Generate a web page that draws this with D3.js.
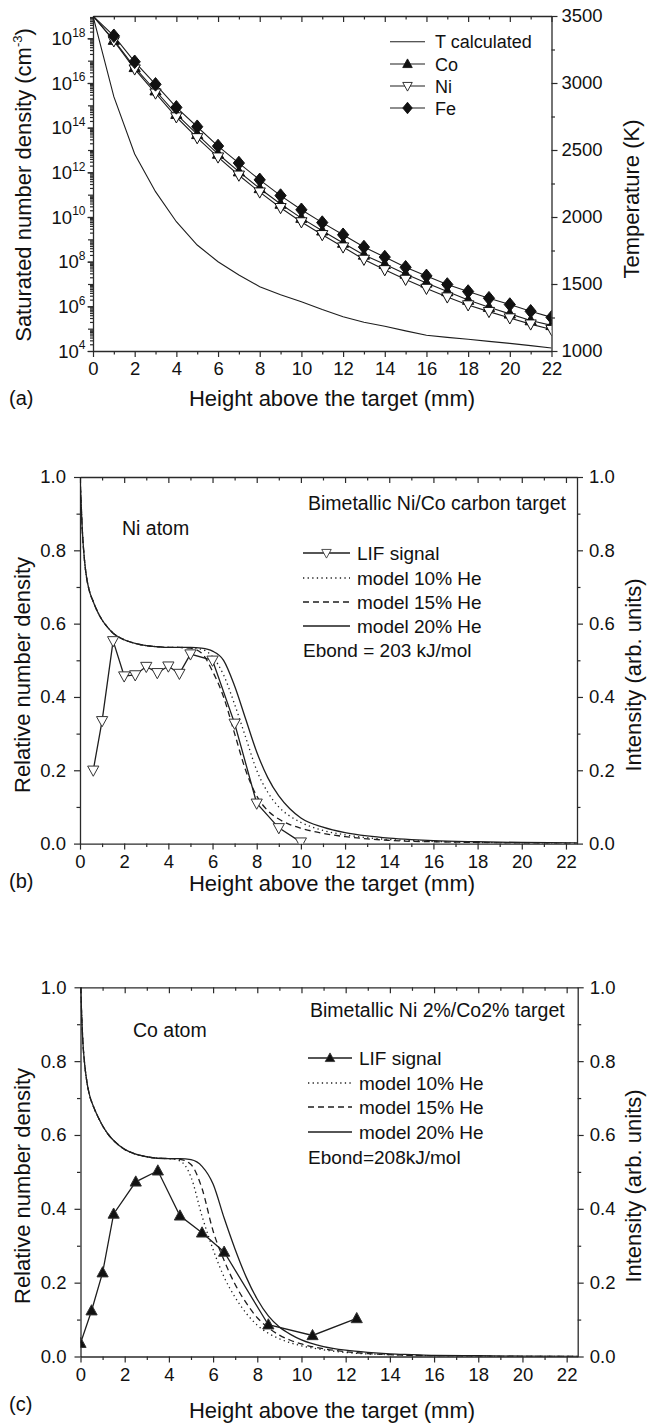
<!DOCTYPE html>
<html>
<head>
<meta charset="utf-8">
<script src="https://cdn.jsdelivr.net/npm/d3@7"></script>
<style>
  body { margin: 0; background: #fff; }
  svg text { font-family: "Liberation Sans", Arial, Helvetica, sans-serif; fill: #111; }
</style>
</head>
<body>
<svg id="fig" width="648" height="1425"></svg>
<script>
// ---------- (a) saturated number density and temperature ----------
const heightA = [0, 1, 2, 3, 4, 5, 6, 7, 8, 9, 10, 11, 12, 13, 14, 15, 16, 17, 18, 19, 20, 21, 22];
const temperatureK = [3500, 2898, 2470, 2189, 1965, 1791, 1666, 1567, 1480, 1420, 1368, 1310, 1256,
                      1215, 1185, 1150, 1117, 1102, 1088, 1072, 1057, 1040, 1022];
const densityCo = [1e19, 8.3e17, 5.0e16, 4.5e15, 4.0e14, 5.0e13, 6.6e12, 1.07e12, 1.9e11, 3.8e10, 8.9e9,
                   2.4e9, 6.8e8, 2.0e8, 7.6e7, 2.8e7, 1.12e7, 4.6e6, 1.9e6, 9.1e5, 4.6e5, 2.3e5, 1.4e5];
const densityNi = [1e19, 7.6e17, 4.2e16, 3.5e15, 3.0e14, 3.5e13, 4.8e12, 7.4e11, 1.3e11, 2.6e10, 6.0e9,
                   1.6e9, 4.5e8, 1.26e8, 4.3e7, 1.6e7, 6.3e6, 2.6e6, 1.15e6, 5.8e5, 3.0e5, 1.6e5, 9.1e4];
const densityFe = [1e19, 1.3e18, 8.9e16, 8.7e15, 8.1e14, 1.1e14, 1.5e13, 2.6e12, 4.6e11, 9.1e10, 2.1e10,
                   5.6e9, 1.6e9, 4.5e8, 1.6e8, 5.6e7, 2.3e7, 9.5e6, 4.6e6, 2.3e6, 1.2e6, 6.0e5, 3.2e5];
const densityTickExps = [4, 6, 8, 10, 12, 14, 16, 18];
const temperatureTicks = [1000, 1500, 2000, 2500, 3000, 3500];
const heightTicksA = [0, 2, 4, 6, 8, 10, 12, 14, 16, 18, 20, 22];
const legendA = ["T calculated", "Co", "Ni", "Fe"];

// ---------- (b) Ni atom ----------
const modelHeight = [0, 0.05, 0.1, 0.2, 0.3, 0.4, 0.6, 0.8, 1, 1.25, 1.5, 2, 2.5, 3, 3.5, 4, 4.5, 5,
                     5.5, 6, 6.5, 7, 7.5, 8, 8.5, 9, 9.5, 10, 11, 12, 13, 14, 15, 16, 18, 20, 22.5];
const niModel10 = [1.0, 0.93, 0.86, 0.775, 0.725, 0.695, 0.66, 0.632, 0.61, 0.59, 0.574, 0.556, 0.546, 0.54,
                   0.537, 0.535, 0.535, 0.534, 0.53, 0.51, 0.46, 0.38, 0.29, 0.2, 0.14, 0.1, 0.075, 0.058,
                   0.036, 0.024, 0.016, 0.011, 0.008, 0.006, 0.003, 0.002, 0.001];
const niModel15 = [1.0, 0.93, 0.86, 0.775, 0.725, 0.695, 0.66, 0.632, 0.61, 0.59, 0.574, 0.556, 0.546, 0.54,
                   0.537, 0.535, 0.535, 0.533, 0.52, 0.47, 0.40, 0.30, 0.20, 0.13, 0.09, 0.067, 0.052, 0.042,
                   0.028, 0.019, 0.013, 0.009, 0.006, 0.005, 0.003, 0.001, 0.0];
const niModel20 = [1.0, 0.93, 0.86, 0.775, 0.725, 0.695, 0.66, 0.632, 0.61, 0.59, 0.574, 0.556, 0.546, 0.54,
                   0.537, 0.535, 0.535, 0.535, 0.533, 0.525, 0.50, 0.43, 0.34, 0.25, 0.18, 0.13, 0.095, 0.07,
                   0.045, 0.03, 0.021, 0.015, 0.011, 0.008, 0.005, 0.003, 0.002];
const niLifHeight = [0.6, 1.0, 1.5, 2.0, 2.5, 3.0, 3.5, 4.0, 4.5, 5.0, 6.0, 7.0, 8.0, 9.0, 10.0];
const niLifSignal = [0.20, 0.335, 0.553, 0.457, 0.46, 0.483, 0.466, 0.484, 0.464, 0.517, 0.50, 0.328,
                     0.11, 0.043, 0.004];

// ---------- (c) Co atom ----------
const coModel10 = [1.0, 0.93, 0.86, 0.785, 0.74, 0.71, 0.675, 0.648, 0.625, 0.602, 0.585, 0.561, 0.548, 0.541,
                   0.537, 0.536, 0.53, 0.486, 0.38, 0.29, 0.215, 0.16, 0.117, 0.085, 0.063, 0.048, 0.037, 0.029,
                   0.018, 0.011, 0.007, 0.005, 0.003, 0.002, 0.001, 0.0, 0.0];
const coModel15 = [1.0, 0.93, 0.86, 0.785, 0.74, 0.71, 0.675, 0.648, 0.625, 0.602, 0.585, 0.561, 0.548, 0.541,
                   0.537, 0.536, 0.534, 0.52, 0.455, 0.34, 0.26, 0.195, 0.145, 0.105, 0.078, 0.058, 0.044, 0.034,
                   0.021, 0.013, 0.008, 0.005, 0.003, 0.002, 0.001, 0.0, 0.0];
const coModel20 = [1.0, 0.93, 0.86, 0.785, 0.74, 0.71, 0.675, 0.648, 0.625, 0.602, 0.585, 0.561, 0.548, 0.541,
                   0.537, 0.536, 0.536, 0.533, 0.515, 0.467, 0.375, 0.29, 0.215, 0.155, 0.11, 0.08, 0.06, 0.045,
                   0.027, 0.017, 0.011, 0.007, 0.005, 0.003, 0.002, 0.001, 0.0];
const coLifHeight = [0, 0.5, 1.0, 1.5, 2.5, 3.5, 4.5, 5.5, 6.5, 8.5, 10.5, 12.5];
const coLifSignal = [0.036, 0.124, 0.227, 0.386, 0.473, 0.503, 0.381, 0.335, 0.283, 0.086, 0.057, 0.103];

const relTicks = [0, 0.2, 0.4, 0.6, 0.8, 1.0];
const relMinorTicks = [0.1, 0.3, 0.5, 0.7, 0.9];
const heightTicksBC = [0, 2, 4, 6, 8, 10, 12, 14, 16, 18, 20, 22];
const legendModels = ["model 10% He", "model 15% He", "model 20% He"];

// ---------- shared styling ----------
const AXIS = "#2a2a2a";
const LINE = "#1e1e1e";
const TICK_FONT = 18.5;
const TITLE_FONT = 22;
const svg = d3.select("#fig");

const triUp = "M0,-6L5.6,4.2L-5.6,4.2Z";
const triDown = "M-5.6,-4.2L5.6,-4.2L0,6Z";
const diamond = "M0,-6.8L5.6,0L0,6.8L-5.6,0Z";
const dotted = "1.3,3.3";
const dashed = "6,4";

function styleAxis(sel, fontSize) {
  sel.select(".domain").attr("stroke", AXIS).attr("stroke-width", 1.3);
  sel.selectAll(".tick line").attr("stroke", AXIS).attr("stroke-width", 1.2);
  sel.selectAll(".tick text").attr("font-size", fontSize).attr("fill", "#111")
     .attr("font-family", '"Liberation Sans", Arial, sans-serif');
}
function addAxis(g, gen, transform, fontSize) {
  const a = g.append("g").attr("transform", transform).call(gen);
  styleAxis(a, fontSize || TICK_FONT);
  return a;
}
function addMinor(g, gen, transform) {
  const a = g.append("g").attr("transform", transform).call(gen.tickFormat(""));
  a.select(".domain").remove();
  styleAxis(a);
  return a;
}
function clipRect(id, x0, y0, x1, y1) {
  svg.append("clipPath").attr("id", id).append("rect")
     .attr("x", x0).attr("y", y0).attr("width", x1 - x0).attr("height", y1 - y0);
}
function rotatedTitle(x, y, text) {
  return svg.append("text").attr("transform", `translate(${x},${y}) rotate(-90)`)
    .attr("text-anchor", "middle").attr("font-size", TITLE_FONT).text(text);
}

// ================= panel (a) =================
(function () {
  const L = 93, R = 551.5, T = 16, B = 351;
  const x = d3.scaleLinear([0, 22], [L, R]);
  const y = d3.scaleLog([1e4, 1e19], [B, T]);
  const yT = d3.scaleLinear([1000, 3500], [B, T]);
  const g = svg.append("g");

  // x axes
  const minorX = d3.range(1, 22, 2);
  addMinor(g, d3.axisBottom(x).tickValues(minorX).tickSize(3.5).tickSizeOuter(0), `translate(0,${B})`);
  addAxis(g, d3.axisBottom(x).tickValues(heightTicksA).tickSize(6).tickSizeOuter(0).tickPadding(5)
             .tickFormat(d3.format("d")), `translate(0,${B})`);
  addMinor(g, d3.axisTop(x).tickValues(minorX).tickSize(-3.5).tickSizeOuter(0), `translate(0,${T})`);
  addAxis(g, d3.axisTop(x).tickValues(heightTicksA).tickSize(-6).tickSizeOuter(0)
             .tickFormat(""), `translate(0,${T})`);

  // log axis with superscript labels
  const decades = d3.range(4, 19);
  const minorY = [];
  decades.forEach(e => { for (let m = 2; m <= 9; m++) minorY.push(m * Math.pow(10, e)); });
  addMinor(g, d3.axisLeft(y).tickValues(minorY).tickSize(3).tickSizeOuter(0), `translate(${L},0)`);
  addMinor(g, d3.axisLeft(y).tickValues(decades.map(e => Math.pow(10, e))).tickSize(5).tickSizeOuter(0),
           `translate(${L},0)`);
  const left = addAxis(g, d3.axisLeft(y).tickValues(densityTickExps.map(e => Math.pow(10, e)))
             .tickSize(5.5).tickSizeOuter(0).tickPadding(2).tickFormat(""), `translate(${L},0)`);
  left.selectAll(".tick").each(function (d) {
    const t = d3.select(this).select("text");
    t.text(null).attr("dy", "0.34em");
    t.append("tspan").text("10");
    t.append("tspan").attr("font-size", 12).attr("dy", -8.5).text(Math.round(Math.log10(d)));
  });

  // temperature axis
  addMinor(g, d3.axisRight(yT).tickValues(d3.range(1250, 3500, 500)).tickSize(3.5).tickSizeOuter(0),
           `translate(${R},0)`);
  addAxis(g, d3.axisRight(yT).tickValues(temperatureTicks).tickSize(6).tickSizeOuter(0).tickPadding(4)
             .tickFormat(d3.format("d")), `translate(${R},0)`);

  clipRect("clipA", L, T, R, B);
  const plot = g.append("g").attr("clip-path", "url(#clipA)");

  const lineT = d3.line().x((d, i) => x(heightA[i])).y(d => yT(d));
  plot.append("path").attr("d", lineT(temperatureK)).attr("fill", "none")
      .attr("stroke", LINE).attr("stroke-width", 1.1);

  const seriesA = [
    { vals: densityCo, shape: triUp, fill: "#111" },
    { vals: densityNi, shape: triDown, fill: "#fff" },
    { vals: densityFe, shape: diamond, fill: "#111" }
  ];
  const lineD = d3.line().x((d, i) => x(heightA[i])).y(d => y(d));
  seriesA.forEach(s => {
    plot.append("path").attr("d", lineD(s.vals)).attr("fill", "none")
        .attr("stroke", LINE).attr("stroke-width", 1.1);
  });
  seriesA.forEach(s => {
    plot.selectAll(null).data(s.vals.slice(1)).enter().append("path")
      .attr("transform", (d, i) => `translate(${x(heightA[i + 1])},${y(d)})`)
      .attr("d", s.shape).attr("fill", s.fill).attr("stroke", "#111").attr("stroke-width", 1);
  });

  // legend
  const lg = svg.append("g");
  const rowsY = [41.7, 64, 86, 108];
  const shapes = [null, triUp, triDown, diamond];
  const fills = [null, "#111", "#fff", "#111"];
  legendA.forEach((name, i) => {
    lg.append("line").attr("x1", 390).attr("x2", 425).attr("y1", rowsY[i]).attr("y2", rowsY[i])
      .attr("stroke", LINE).attr("stroke-width", 1.1);
    if (shapes[i]) lg.append("path").attr("d", shapes[i]).attr("transform", `translate(407.5,${rowsY[i]}) scale(0.85)`)
      .attr("fill", fills[i]).attr("stroke", "#111").attr("stroke-width", 1);
    lg.append("text").attr("x", 435).attr("y", rowsY[i] + 6.5).attr("font-size", 18).text(name);
  });

  // titles
  const yt = svg.append("text").attr("transform", `translate(31,185) rotate(-90)`)
    .attr("text-anchor", "middle").attr("font-size", TITLE_FONT);
  yt.append("tspan").text("Saturated number density (cm");
  yt.append("tspan").attr("font-size", 13).attr("dy", -9).text("-3");
  yt.append("tspan").attr("dy", 9).text(")");
  rotatedTitle(639, 199, "Temperature (K)");
  svg.append("text").attr("x", 332).attr("y", 406).attr("text-anchor", "middle")
     .attr("font-size", TITLE_FONT).text("Height above the target (mm)");
  svg.append("text").attr("x", 9).attr("y", 405).attr("font-size", 20).text("(a)");
})();

// ================= panels (b) and (c) =================
function relPanel(cfg) {
  const { L, R, T, B, id } = cfg;
  const x = d3.scaleLinear([0, 22.5], [L, R]);
  const y = d3.scaleLinear([0, 1], [B, T]);
  const g = svg.append("g");
  const minorX = d3.range(1, 23, 2);

  addMinor(g, d3.axisBottom(x).tickValues(minorX).tickSize(3.5).tickSizeOuter(0), `translate(0,${B})`);
  addAxis(g, d3.axisBottom(x).tickValues(heightTicksBC).tickSize(6).tickSizeOuter(0).tickPadding(5)
             .tickFormat(d3.format("d")), `translate(0,${B})`);
  addMinor(g, d3.axisTop(x).tickValues(minorX).tickSize(-3.5).tickSizeOuter(0), `translate(0,${T})`);
  addAxis(g, d3.axisTop(x).tickValues(heightTicksBC).tickSize(-6).tickSizeOuter(0).tickFormat(""),
          `translate(0,${T})`);
  addMinor(g, d3.axisLeft(y).tickValues(relMinorTicks).tickSize(3.5).tickSizeOuter(0), `translate(${L},0)`);
  addAxis(g, d3.axisLeft(y).tickValues(relTicks).tickSize(6).tickSizeOuter(0).tickPadding(8)
             .tickFormat(d3.format(".1f")), `translate(${L},0)`);
  addMinor(g, d3.axisRight(y).tickValues(relMinorTicks).tickSize(3.5).tickSizeOuter(0), `translate(${R},0)`);
  addAxis(g, d3.axisRight(y).tickValues(relTicks).tickSize(6).tickSizeOuter(0).tickPadding(6)
             .tickFormat(d3.format(".1f")), `translate(${R},0)`);

  clipRect(id, L, T, R, B);
  const plot = g.append("g").attr("clip-path", `url(#${id})`);
  const smooth = d3.line().curve(d3.curveMonotoneX).x((d, i) => x(modelHeight[i])).y(d => y(d));
  const models = [
    { vals: cfg.m10, dash: dotted },
    { vals: cfg.m15, dash: dashed },
    { vals: cfg.m20, dash: null }
  ];
  models.forEach(m => {
    plot.append("path").attr("d", smooth(m.vals)).attr("fill", "none")
      .attr("stroke", LINE).attr("stroke-width", 1.3).attr("stroke-dasharray", m.dash);
  });
  const lif = d3.line().x((d, i) => x(cfg.lifX[i])).y(d => y(d));
  plot.append("path").attr("d", lif(cfg.lifY)).attr("fill", "none")
    .attr("stroke", LINE).attr("stroke-width", 1.3);
  plot.selectAll(null).data(cfg.lifY).enter().append("path")
    .attr("transform", (d, i) => `translate(${x(cfg.lifX[i])},${y(d)})`)
    .attr("d", cfg.shape).attr("fill", cfg.fill).attr("stroke", "#333").attr("stroke-width", 1);

  // annotations
  svg.append("text").attr("x", cfg.targetX).attr("y", cfg.targetY).attr("font-size", 19.5).text(cfg.target);
  svg.append("text").attr("x", cfg.atomX).attr("y", cfg.atomY).attr("font-size", 19.5).text(cfg.atom);

  // legend
  const lg = svg.append("g");
  const [lx0, lx1, tx] = cfg.legendX;
  const rows = cfg.legendRows;
  lg.append("line").attr("x1", lx0).attr("x2", lx1).attr("y1", rows[0]).attr("y2", rows[0])
    .attr("stroke", LINE).attr("stroke-width", 1.3);
  lg.append("path").attr("d", cfg.shape).attr("transform", `translate(${(lx0 + lx1) / 2},${rows[0]}) scale(0.85)`)
    .attr("fill", cfg.fill).attr("stroke", "#333").attr("stroke-width", 1);
  lg.append("text").attr("x", tx).attr("y", rows[0] + 6.5).attr("font-size", 19).text("LIF signal");
  [dotted, dashed, null].forEach((dash, i) => {
    lg.append("line").attr("x1", lx0).attr("x2", lx1).attr("y1", rows[i + 1]).attr("y2", rows[i + 1])
      .attr("stroke", LINE).attr("stroke-width", 1.3).attr("stroke-dasharray", dash);
    lg.append("text").attr("x", tx).attr("y", rows[i + 1] + 6.5).attr("font-size", 19).text(legendModels[i]);
  });
  lg.append("text").attr("x", lx0).attr("y", rows[4] + 6.5).attr("font-size", 19).text(cfg.ebond);

  // titles
  rotatedTitle(30, cfg.titleY, "Relative number density");
  rotatedTitle(641, cfg.titleY, "Intensity (arb. units)");
  svg.append("text").attr("x", 332).attr("y", cfg.xTitleY).attr("text-anchor", "middle")
     .attr("font-size", TITLE_FONT).text("Height above the target (mm)");
  svg.append("text").attr("x", 9).attr("y", cfg.letterY).attr("font-size", 20).text(cfg.letter);
}

relPanel({
  id: "clipB", L: 80, R: 577, T: 477, B: 843.6,
  m10: niModel10, m15: niModel15, m20: niModel20,
  lifX: niLifHeight, lifY: niLifSignal, shape: triDown, fill: "#fff",
  target: "Bimetallic Ni/Co carbon target", targetX: 308, targetY: 510,
  atom: "Ni atom", atomX: 122, atomY: 535,
  legendX: [303, 350, 357], legendRows: [553, 578, 602, 626, 650],
  ebond: "Ebond = 203 kJ/mol",
  titleY: 675, xTitleY: 891, letterY: 888, letter: "(b)"
});

relPanel({
  id: "clipC", L: 80.5, R: 577.7, T: 987.3, B: 1356.5,
  m10: coModel10, m15: coModel15, m20: coModel20,
  lifX: coLifHeight, lifY: coLifSignal, shape: triUp, fill: "#111",
  target: "Bimetallic Ni 2%/Co2% target", targetX: 310, targetY: 1017,
  atom: "Co atom", atomX: 133, atomY: 1037,
  legendX: [308, 352, 359], legendRows: [1058, 1083, 1107, 1132, 1157],
  ebond: "Ebond=208kJ/mol",
  titleY: 1186, xTitleY: 1418, letterY: 1411, letter: "(c)"
});
</script>
</body>
</html>
